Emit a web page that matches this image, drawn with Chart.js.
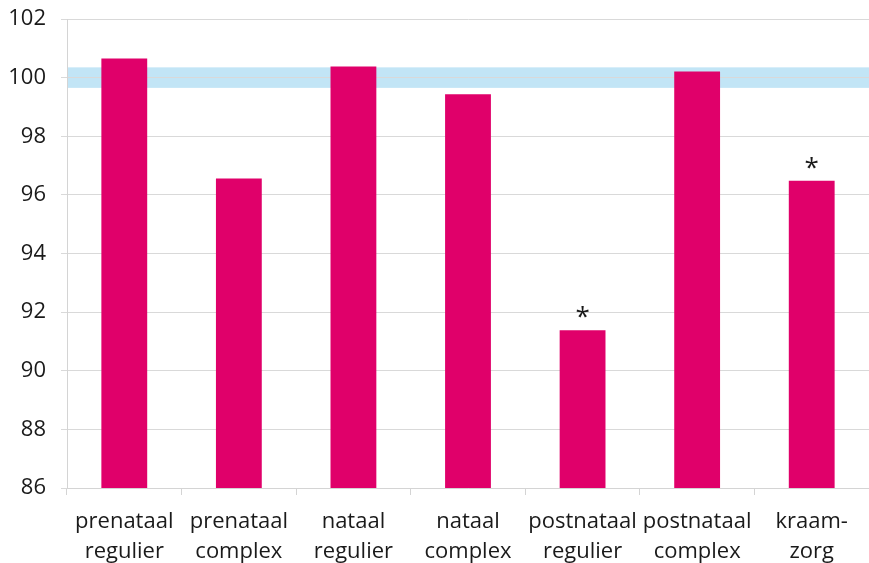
<!doctype html>
<html lang="nl">
  <head>
    <meta charset="UTF-8" />
    <title>Index</title>
    <script src="https://cdn.jsdelivr.net/npm/chart.js"></script>
    <style>
      body {
        margin: 0;
        padding: 0;
        background-color: #ffffff;
      }
      .chart-container {
        position: relative;
        width: 869px;
        height: 563px;
      }
    </style>
  </head>
  <body>
    <div class="chart-container">
      <canvas id="barChart" width="869" height="563"></canvas>
    </div>

    <script>
      const categories = [
        ['prenataal', 'regulier'],
        ['prenataal', 'complex'],
        ['nataal', 'regulier'],
        ['nataal', 'complex'],
        ['postnataal', 'regulier'],
        ['postnataal', 'complex'],
        ['kraam-', 'zorg'],
      ];
      const values = [100.65, 96.56, 100.38, 99.43, 91.38, 100.21, 96.48];
      const significant = [false, false, false, false, true, false, true];
      const bandRange = [99.65, 100.35];
      const yTicks = [86, 88, 90, 92, 94, 96, 98, 100, 102];

      const fontFamily = "'Open Sans', 'Noto Sans', sans-serif";

      // light blue band behind the bars, drawn before the grid
      const bandPlugin = {
        id: 'band',
        beforeDraw(chart) {
          const { ctx, chartArea, scales } = chart;
          const top = scales.y.getPixelForValue(bandRange[1]);
          const bottom = scales.y.getPixelForValue(bandRange[0]);
          ctx.save();
          ctx.fillStyle = '#c2e5f6';
          ctx.fillRect(chartArea.left, top, chartArea.right - chartArea.left, bottom - top);
          ctx.restore();
        },
      };

      // asterisks above significant bars
      const starPlugin = {
        id: 'stars',
        afterDatasetsDraw(chart) {
          const { ctx } = chart;
          const meta = chart.getDatasetMeta(0);
          ctx.save();
          ctx.fillStyle = '#1a1a1a';
          ctx.font = '26px ' + fontFamily;
          ctx.textAlign = 'center';
          ctx.textBaseline = 'alphabetic';
          meta.data.forEach((bar, i) => {
            if (significant[i]) {
              ctx.fillText('*', bar.x, bar.y - 5);
            }
          });
          ctx.restore();
        },
      };

      const ctx = document.getElementById('barChart').getContext('2d');

      new Chart(ctx, {
        type: 'bar',
        data: {
          labels: categories,
          datasets: [
            {
              data: values,
              backgroundColor: '#e0006a',
              barPercentage: 0.8,
              categoryPercentage: 0.5,
            },
          ],
        },
        options: {
          responsive: false,
          animation: false,
          layout: {
            padding: { top: 19, right: 0, bottom: 0, left: 0 },
          },
          plugins: {
            legend: { display: false },
            tooltip: { enabled: false },
          },
          scales: {
            x: {
              grid: {
                display: true,
                drawOnChartArea: false,
                drawTicks: true,
                tickLength: 7,
                color: '#d4d4d4',
              },
              border: { display: true, color: '#d4d4d4' },
              ticks: {
                color: '#1a1a1a',
                font: { family: fontFamily, size: 22, lineHeight: 1.35 },
                padding: 12,
                maxRotation: 0,
                autoSkip: false,
              },
              afterFit(scale) {
                scale.height = 75;
              },
            },
            y: {
              min: 86,
              max: 102,
              afterBuildTicks(scale) {
                scale.ticks = yTicks.map((v) => ({ value: v }));
              },
              grid: {
                color: '#d9d9d9',
                tickLength: 6,
              },
              border: { display: true, color: '#d4d4d4' },
              ticks: {
                color: '#1a1a1a',
                font: { family: fontFamily, size: 22 },
                padding: 15,
              },
              afterFit(scale) {
                scale.width = 67;
                scale.paddingTop = 0;
                scale.paddingBottom = 0;
              },
            },
          },
        },
        plugins: [bandPlugin, starPlugin],
      });
    </script>
  </body>
</html>
